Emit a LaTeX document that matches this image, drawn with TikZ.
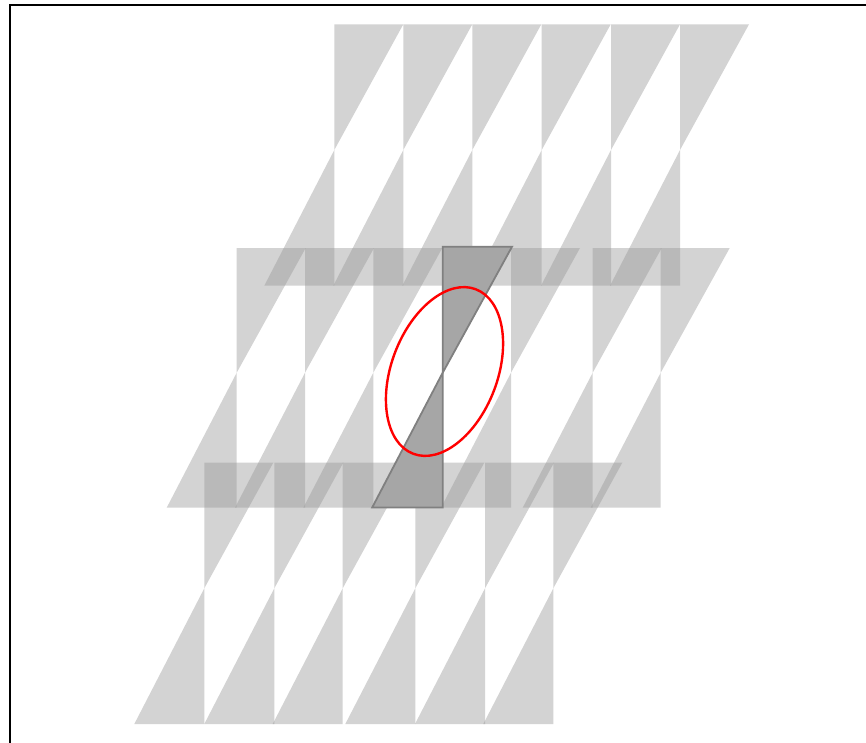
\documentclass[tikz,border=0pt]{standalone}
\newcommand{\lighttile}[4]{%
  \fill[lighttri] (#1,#2) -- ({#1+69},#2) -- (#1,#3) -- cycle;
  \fill[lighttri] (#1,#3) -- (#1,#4) -- ({#1-70},#4) -- cycle;}
\begin{document}
\begin{tikzpicture}[x=1pt,y=-1pt,
  lighttri/.style={fill=black!40, fill opacity=0.43},
  darktri/.style={fill=black!35, draw=black!50, line width=1.8pt, line join=miter},
  frameline/.style={draw=black, line width=2.2pt},
  ellipseline/.style={draw=red, line width=2.4pt}]
\useasboundingbox (0,0) rectangle (866,742);
\clip (0,0) rectangle (866,742);
\fill[white] (0,0) rectangle (866,742);
% top group
\foreach \x in {334.3,403.3,472.3,541.7,611,680}
  {\lighttile{\x}{24.3}{150}{285.7}}
% middle group
\foreach \x in {236.7,305,373.3,442.7,511,592.7,660.7}
  {\lighttile{\x}{248}{372.7}{507.7}}
% bottom group
\foreach \x in {204.3,274.3,342.7,415.3,485,553.3}
  {\lighttile{\x}{462.7}{588.3}{724}}
% highlighted tile
\filldraw[darktri] (442.7,246.7) -- (512,246.7) -- (442.7,372.7) -- cycle;
\filldraw[darktri] (442.7,372.7) -- (442.7,507.5) -- (372.2,507.5) -- cycle;
% ellipse
\draw[ellipseline, rotate around={69.2:(444.5,371.5)}] (444.5,371.5) ellipse [x radius=88, y radius=53];
% frame
\draw[frameline] (9.8,5) rectangle (890,770);
\end{tikzpicture}
\end{document}
